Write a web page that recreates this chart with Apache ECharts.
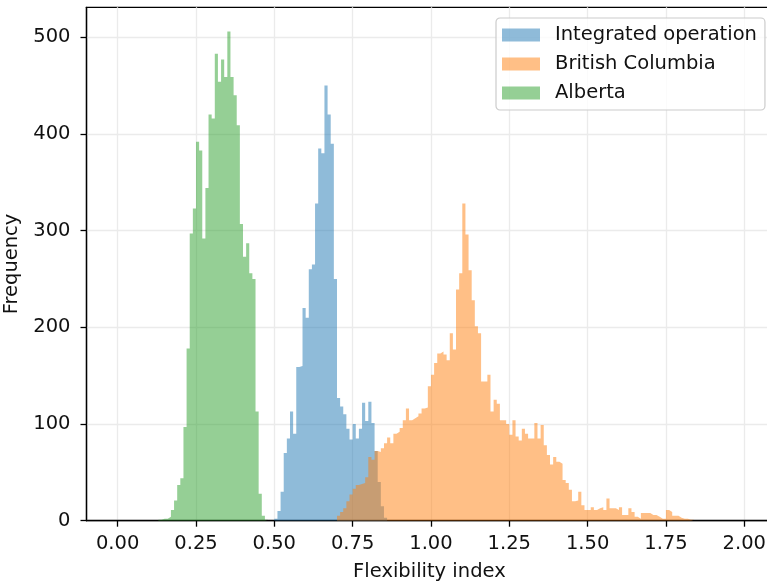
<!DOCTYPE html>
<html>
<head>
<meta charset="utf-8">
<script src="https://cdn.jsdelivr.net/npm/echarts@6/dist/echarts.min.js"></script>
<style>
  html, body { margin: 0; padding: 0; background: #fff; }
  #chart { width: 767px; height: 581px; }
</style>
</head>
<body>
<div id="chart"></div>
<script>
// Histogram of the flexibility index, shared bins of width 0.01 starting at 0
const BIN_WIDTH = 0.01;

// Integrated operation: counts for bins starting at 0.50
const integratedFirstBin = 50;
const integratedCounts = [
  2, 10, 30, 70, 85, 113, 90, 159, 160, 220,
  210, 260, 265, 328, 385, 380, 450, 420, 390, 250,
  127, 118, 110, 95, 84, 100, 85, 95, 122, 103,
  123, 101, 72, 40, 15, 3
];

// British Columbia: counts for bins starting at 0.70
const bcFirstBin = 70;
const bcCounts = [
  5, 9, 13, 20, 27, 33, 37, 38, 39, 45,
  66, 63, 72, 71, 75, 80, 86, 80, 90, 92,
  96, 104, 116, 104, 106, 108, 111, 116, 117, 139,
  151, 163, 173, 175, 172, 166, 194, 177, 239, 256,
  328, 296, 259, 228, 201, 194, 144, 144, 151, 113,
  125, 121, 104, 104, 100, 89, 104, 87, 83, 95,
  90, 85, 85, 101, 85, 99, 78, 68, 58, 66,
  61, 59, 42, 39, 32, 20, 21, 30, 16, 11,
  11, 14, 11, 13, 14, 11, 23, 13, 13, 11,
  14, 6, 6, 13, 9, 4, 2, 8, 8, 8,
  6, 6, 4, 2, 2, 11, 9, 5, 5, 3,
  2, 2, 1, 1
];

// Alberta: counts for bins starting at 0.13
const albertaFirstBin = 13;
const albertaCounts = [
  1, 2, 2, 4, 11, 21, 37, 44, 97, 178,
  297, 323, 392, 383, 292, 344, 420, 416, 483, 454,
  477, 459, 506, 459, 440, 409, 307, 273, 287, 256,
  250, 113, 28, 5, 1
];

const seriesNames = ['Integrated operation', 'British Columbia', 'Alberta'];
const seriesColors = ['rgba(31,119,180,0.5)', 'rgba(255,127,14,0.5)', 'rgba(44,160,44,0.5)'];

const xTicks = [0, 0.25, 0.5, 0.75, 1.0, 1.25, 1.5, 1.75, 2.0];
const yTicks = [0, 100, 200, 300, 400, 500];

// Turn bin counts into step points: left edge of every bin, then a closing edge at zero
function stepPoints(firstBin, counts) {
  const pts = counts.map((c, i) => [+((firstBin + i) * BIN_WIDTH).toFixed(4), c]);
  pts.push([+((firstBin + counts.length) * BIN_WIDTH).toFixed(4), 0]);
  return pts;
}

const histograms = [
  stepPoints(integratedFirstBin, integratedCounts),
  stepPoints(bcFirstBin, bcCounts),
  stepPoints(albertaFirstBin, albertaCounts)
];

const FONT = 'DejaVu Sans';
const FS = 19.5;
const TEXT = '#111';

const chart = echarts.init(document.getElementById('chart'), null, { renderer: 'canvas' });

chart.setOption({
  animation: false,
  backgroundColor: '#ffffff',
  grid: {
    left: 86.5, top: 7.3, width: 685.8, height: 513.4,
    outerBoundsMode: 'none',
    show: true, borderColor: '#000', borderWidth: 1.3, backgroundColor: 'transparent'
  },
  legend: {
    orient: 'vertical',
    left: 496, top: 18,
    padding: [7, 8, 7, 6],
    backgroundColor: 'rgba(255,255,255,0.8)',
    borderColor: '#cccccc', borderWidth: 1.2, borderRadius: 4,
    itemWidth: 38, itemHeight: 13, itemGap: 9,
    textStyle: { fontFamily: FONT, fontSize: FS, color: TEXT, padding: [0, 0, 0, 10] },
    data: seriesNames.map((n, i) => ({
      name: n, icon: 'rect',
      itemStyle: { color: seriesColors[i], opacity: 1, borderWidth: 0 }
    }))
  },
  xAxis: {
    type: 'value', min: -0.0995, max: 2.0895,
    name: 'Flexibility index', nameLocation: 'middle', nameGap: 41,
    nameTextStyle: { fontFamily: FONT, fontSize: FS, color: TEXT },
    axisLine: { show: true, onZero: false, lineStyle: { color: '#000', width: 1.3 } },
    axisTick: { show: true, length: 6, lineStyle: { color: '#000', width: 1.3 }, customValues: xTicks },
    axisLabel: {
      fontFamily: FONT, fontSize: FS, color: TEXT, margin: 13,
      customValues: xTicks, formatter: v => v.toFixed(2)
    },
    splitLine: { show: true, lineStyle: { color: '#ebebeb', width: 1.3 } }
  },
  yAxis: {
    type: 'value', min: 0, max: 531,
    name: 'Frequency', nameLocation: 'middle', nameGap: 58, nameRotate: 90,
    nameTextStyle: { fontFamily: FONT, fontSize: FS, color: TEXT },
    axisLine: { show: true, onZero: false, lineStyle: { color: '#000', width: 1.3 } },
    axisTick: { show: true, length: 6, lineStyle: { color: '#000', width: 1.3 }, customValues: yTicks },
    axisLabel: {
      fontFamily: FONT, fontSize: FS, color: TEXT, margin: 16,
      customValues: yTicks
    },
    splitLine: { show: true, lineStyle: { color: '#ebebeb', width: 1.3 } }
  },
  series: histograms.map((pts, i) => ({
    name: seriesNames[i],
    type: 'line',
    step: 'end',
    data: pts,
    symbol: 'none',
    showSymbol: false,
    color: seriesColors[i],
    lineStyle: { width: 0, opacity: 0 },
    areaStyle: { color: seriesColors[i], opacity: 1, origin: 'start' },
    z: 2 + i
  }))
});
</script>
</body>
</html>
